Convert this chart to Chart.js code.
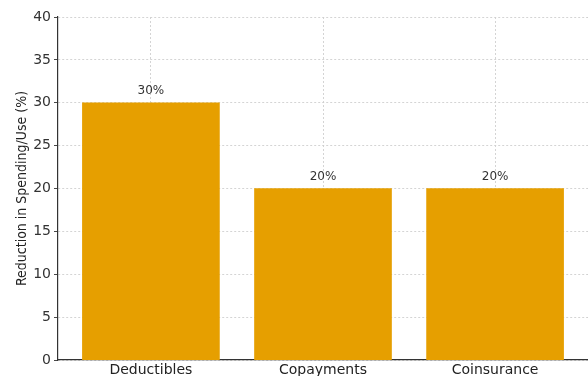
<!DOCTYPE html>
<html lang="en">
<head>
  <meta charset="UTF-8">
  <title>Reduction in Spending/Use</title>
  <style>
    * { margin: 0; padding: 0; box-sizing: border-box; }
    body { background: #fff; width: 588px; height: 376px; overflow: hidden; }
    #chart { display: block; }
  </style>
</head>
<body>
  <canvas id="chart" width="588" height="376"></canvas>

  <script src="https://cdn.jsdelivr.net/npm/chart.js@4.4.1/dist/chart.umd.min.js"></script>
  <script>
    const categories = ['Deductibles', 'Copayments', 'Coinsurance'];
    const reductions = [30, 20, 20];
    const yTicks = [0, 5, 10, 15, 20, 25, 30, 35, 40];

    const FONT = "'DejaVu Sans', sans-serif";

    // percentage text above each bar
    const valueLabels = {
      id: 'valueLabels',
      afterDatasetsDraw(chart) {
        const ctx = chart.ctx;
        const meta = chart.getDatasetMeta(0);
        ctx.save();
        ctx.font = '12px ' + FONT;
        ctx.fillStyle = '#333';
        ctx.textAlign = 'center';
        ctx.textBaseline = 'middle';
        meta.data.forEach((bar, i) => {
          ctx.fillText(reductions[i] + '%', bar.x, bar.y - 12);
        });
        ctx.restore();
      }
    };

    new Chart(document.getElementById('chart'), {
      type: 'bar',
      data: {
        datasets: [{
          data: reductions.map((v, i) => ({ x: i, y: v })),
          backgroundColor: '#E69F00',
          borderWidth: 0,
          barThickness: 137
        }]
      },
      options: {
        responsive: false,
        animation: false,
        layout: { padding: { top: 17, right: 0, left: 0, bottom: 0 } },
        plugins: {
          legend: { display: false },
          tooltip: { enabled: false }
        },
        scales: {
          x: {
            type: 'linear',
            min: -0.54,
            max: 2.54,
            offset: false,
            z: 1,
            afterBuildTicks(scale) {
              scale.ticks = categories.map((_, i) => ({ value: i }));
            },
            afterFit(scale) { scale.height = 16; },
            ticks: {
              callback: v => categories[v],
              color: '#222',
              font: { family: FONT, size: 14 },
              padding: 2,
              maxRotation: 0
            },
            grid: {
              offset: false,
              color: '#d0d0d0',
              lineWidth: 0.9,
              drawTicks: false
            },
            border: { color: '#333', width: 1.2, dash: [2, 2] }
          },
          y: {
            min: 0,
            max: 40,
            z: 1,
            afterBuildTicks(scale) {
              scale.ticks = yTicks.map(v => ({ value: v }));
            },
            afterFit(scale) { scale.width = 58; },
            title: {
              display: true,
              text: 'Reduction in Spending/Use (%)',
              color: '#222',
              font: { family: "'DejaVu Sans Condensed', 'DejaVu Sans', sans-serif", size: 14 },
              padding: { top: 14, bottom: 0 }
            },
            ticks: {
              color: '#333',
              font: { family: FONT, size: 14 },
              padding: 3
            },
            grid: {
              color: '#d0d0d0',
              lineWidth: 0.9,
              tickLength: 4,
              tickColor: '#333',
              tickBorderDash: []
            },
            border: { color: '#333', width: 1.2, dash: [2, 2] }
          }
        }
      },
      plugins: [valueLabels]
    });
  </script>
</body>
</html>
